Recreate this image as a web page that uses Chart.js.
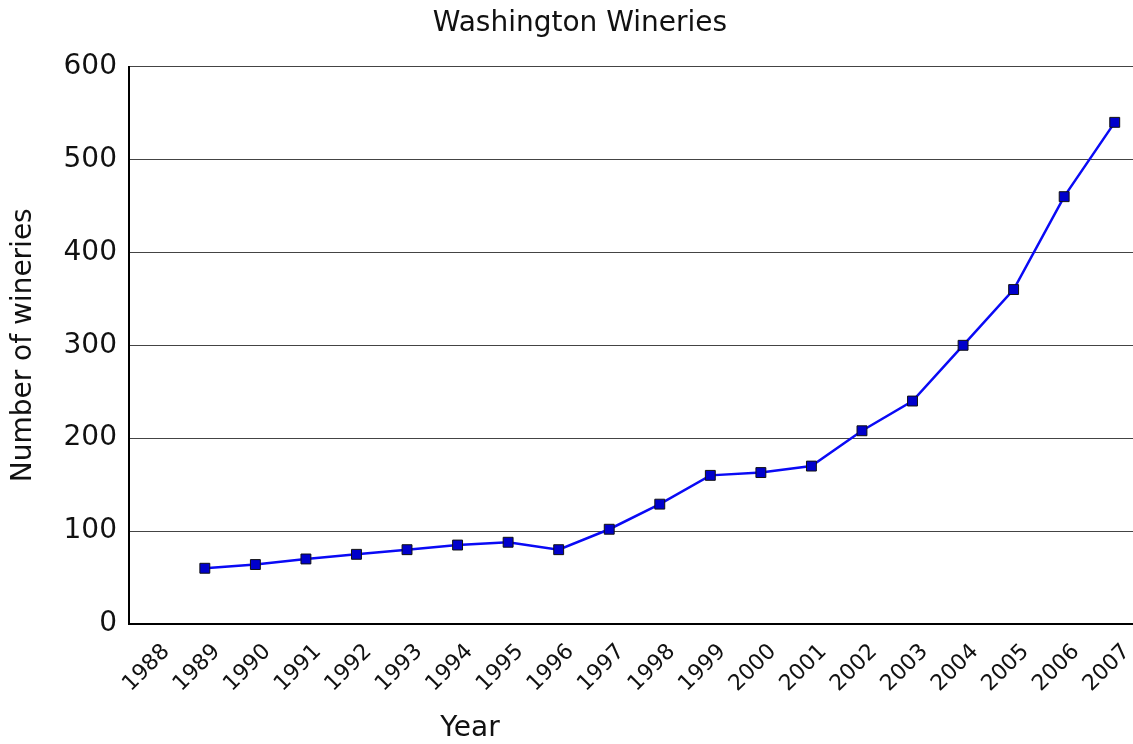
<!DOCTYPE html>
<html>
<head>
<meta charset="utf-8">
<script src="https://cdn.jsdelivr.net/npm/chart.js@4/dist/chart.umd.min.js"></script>
<style>
  html, body { margin: 0; padding: 0; background: #fff; overflow: hidden; }
  #wrap { position: relative; width: 1160px; height: 744px; }
</style>
</head>
<body>
<div id="wrap"><canvas id="c" width="1160" height="744"></canvas></div>
<script>
const years = ['1988','1989','1990','1991','1992','1993','1994','1995','1996','1997','1998','1999','2000','2001','2002','2003','2004','2005','2006','2007'];
const wineries = [null, 60, 64, 70, 75, 80, 85, 88, 80, 102, 129, 160, 163, 170, 208, 240, 300, 360, 460, 540];
const yTicks = [0, 100, 200, 300, 400, 500, 600];

const FONT = "'DejaVu Sans', 'Liberation Sans', Arial, sans-serif";

const yearLabel = {
  id: 'yearLabel',
  afterDraw(chart) {
    const ctx = chart.ctx;
    ctx.save();
    ctx.font = '28px ' + FONT;
    ctx.fillStyle = '#111';
    ctx.textAlign = 'center';
    ctx.textBaseline = 'middle';
    ctx.fillText('Year', 470, 729);
    ctx.restore();
  }
};

new Chart(document.getElementById('c'), {
  type: 'line',
  data: {
    labels: years,
    datasets: [{
      label: 'Number of wineries',
      data: wineries,
      borderColor: '#0a0af5',
      borderWidth: 2.5,
      backgroundColor: '#0000cc',
      pointStyle: 'rect',
      pointRadius: 7,
      pointHoverRadius: 7,
      pointBorderColor: '#111',
      pointBorderWidth: 1,
      pointBackgroundColor: '#0000cc',
      tension: 0,
      spanGaps: false
    }]
  },
  options: {
    responsive: false,
    animation: false,
    events: [],
    layout: { padding: { left: 20, right: 20, top: 0, bottom: 0 } },
    plugins: {
      legend: { display: false },
      tooltip: { enabled: false },
      title: {
        display: true,
        text: 'Washington Wineries',
        color: '#111',
        font: { family: FONT, size: 28, weight: 'normal' },
        padding: { top: 7, bottom: 26 }
      }
    },
    scales: {
      x: {
        type: 'category',
        offset: true,
        grid: { display: false },
        border: { display: true, color: '#000', width: 2 },
        ticks: {
          color: '#111',
          font: { family: FONT, size: 22 },
          minRotation: 45,
          maxRotation: 45,
          autoSkip: false,
          padding: 7,
          labelOffset: 12
        },
        afterFit(scale) { scale.height = 120; }
      },
      y: {
        min: 0,
        max: 600,
        afterBuildTicks(scale) { scale.ticks = yTicks.map(v => ({ value: v })); },
        grid: { color: '#444', lineWidth: 1, drawTicks: false },
        border: { display: true, color: '#000', width: 2 },
        ticks: {
          color: '#111',
          font: { family: FONT, size: 28 },
          padding: 12
        },
        title: {
          display: true,
          text: 'Number of wineries',
          color: '#111',
          font: { family: FONT, size: 28 },
          padding: { top: -13, bottom: 0 }
        },
        afterFit(scale) { scale.width = 109; }
      }
    }
  },
  plugins: [yearLabel]
});
</script>
</body>
</html>
